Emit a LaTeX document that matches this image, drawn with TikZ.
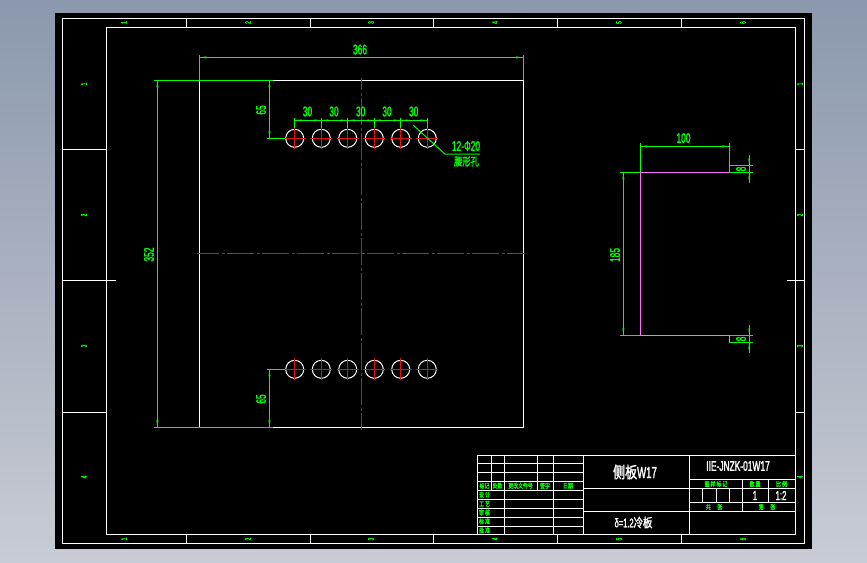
\documentclass[tikz,border=0pt]{standalone}
\usepackage{fontspec}
\usetikzlibrary{arrows.meta}
\setmainfont{Liberation Sans}
\newfontfamily\cadfont[FakeStretch=0.6,FakeBold=1.6]{Liberation Sans}
\newfontfamily\cadcjk[FakeStretch=0.75,FakeBold=1.6]{Noto Sans CJK SC}
\definecolor{cadgreen}{RGB}{0,255,0}
\definecolor{cadtip}{RGB}{0,130,0}
\definecolor{cadred}{RGB}{225,15,15}
\definecolor{cadpink}{RGB}{255,110,255}
\definecolor{deskTop}{RGB}{139,152,173}
\definecolor{deskBottom}{RGB}{200,204,212}

\begin{document}
\begin{tikzpicture}[
		x=1pt,
		y=-1pt,
		frameline/.style={draw=white, line width=1pt},
		partline/.style={draw=white, line width=1pt},
		bendline/.style={draw=cadpink, line width=1pt},
		extline/.style={draw=cadgreen, line width=1pt},
		dimline/.style={
			draw=cadgreen,
			line width=1pt,
			{Latex[length=7pt,width=3pt,color=cadtip]}-{Latex[length=7pt,width=3pt,color=cadtip]},
			postaction={draw=cadgreen, -}
		},
		dimin/.style={
			draw=cadgreen,
			line width=1pt,
			-{Latex[length=7pt,width=3pt,color=cadtip]},
			postaction={draw=cadgreen, -}
		},
		centerline/.style={draw=cadred, line width=0.9pt},
		dimlabel/.style={text=cadgreen, inner sep=0pt, font=\cadfont\fontsize{14}{14}\selectfont},
		cjklabel/.style={text=cadgreen, inner sep=0pt, font=\cadcjk\fontsize{11}{11}\selectfont},
		tablabel/.style={text=cadgreen, inner sep=0pt, font=\cadcjk\fontsize{6.5}{7}\selectfont},
		zonelabel/.style={text=cadgreen, inner sep=0pt, rotate=90, font=\cadfont\fontsize{8}{8}\selectfont},
		titlelabel/.style={text=white, inner sep=0pt}
		]
		
		\useasboundingbox (0,0) rectangle (867,562);
		
		% Window and sheet
		\shade[top color=deskTop, bottom color=deskBottom] (0,0) rectangle (867,562);
		\fill[black] (55,13) rectangle (812,548.5);
		
		% Drawing frame
		\draw[frameline] (62.3,18.3) rectangle (804.7,543.3);
		\draw[frameline] (106.3,27.3) rectangle (795.3,534.3);
		\foreach \tx in {186,310,433,557,681} {
			\draw[frameline] (\tx,18.3) -- (\tx,27.3);
			\draw[frameline] (\tx,534.3) -- (\tx,543.3);
		}
		\foreach \ty in {149,412.3} {
			\draw[frameline] (62.3,\ty) -- (106.3,\ty);
			\draw[frameline] (795.3,\ty) -- (804.7,\ty);
		}
		\draw[frameline] (62.3,280.3) -- (116,280.3);
		\draw[frameline] (787,280.3) -- (804.7,280.3);
		
		% Zone marks
		\foreach \zx/\zn [count=\zi] in {124/1,248/2,371/3,495/4,619/5,743/6} {
			\node[zonelabel] (zonetop\zi) at (\zx,22.5) {\zn};
			\node[zonelabel] (zonebot\zi) at (\zx,539) {\zn};
		}
		\foreach \zy/\zn [count=\zi] in {84/1,215/2,346/3,477/4} {
			\node[zonelabel] (zoneleft\zi) at (84,\zy) {\zn};
			\node[zonelabel] (zoneright\zi) at (800,\zy) {\zn};
		}
		
		% Plate, front view
		\draw[partline] (199.3,80.3) rectangle (523,427.3);
		\draw[centerline, dash pattern=on 27pt off 3pt on 3pt off 2pt, dash phase=5pt] (197,253.3) -- (525,253.3);
		\draw[centerline, dash pattern=on 27pt off 3pt on 3pt off 2pt, dash phase=15pt] (361.3,78) -- (361.3,429.5);
		
		% Holes
		\foreach \hx in {294.7,321.3,347.7,374.3,400.7,427.3} {
			\foreach \hy in {138.3,369.3} {
				\draw[partline] (\hx,\hy) circle (9);
				\draw[centerline] (\hx-11,\hy) -- (\hx+11,\hy);
				\draw[centerline] (\hx,\hy-11) -- (\hx,\hy+11);
			}
		}
		
		% Dimensions of the plate
		\draw[extline] (199.3,55) -- (199.3,80.3);
		\draw[extline] (523,55) -- (523,80.3);
		\draw[dimline] (199.3,57.3) -- (523,57.3);
		\node[dimlabel] (width) at (360,49.5) {366};
		
		\draw[extline] (154,80.3) -- (273,80.3);
		\draw[extline] (154,427.3) -- (273,427.3);
		\draw[dimline] (157.3,80.3) -- (157.3,427.3);
		\node[dimlabel, rotate=90] (height) at (149,254.5) {352};
		
		\draw[extline] (267,138.3) -- (285,138.3);
		\draw[dimline] (269.5,80.3) -- (269.5,138.3);
		\node[dimlabel, rotate=90] (offsettop) at (261,110) {65};
		
		\draw[extline] (267,369.3) -- (285,369.3);
		\draw[dimline] (269.5,369.3) -- (269.5,427.3);
		\node[dimlabel, rotate=90] (offsetbot) at (261,399) {65};
		
		% Pitch of the holes
		\foreach \hx in {294.7,321.3,347.7,374.3,400.7,427.3} {
			\draw[extline] (\hx,117.5) -- (\hx,128);
		}
		\foreach \ax/\bx/\lx [count=\pi] in {294.7/321.3/307.5,321.3/347.7/334,347.7/374.3/360.7,374.3/400.7/387,400.7/427.3/413.7} {
			\draw[dimline] (\ax,120.3) -- (\bx,120.3);
			\node[dimlabel] (pitch\pi) at (\lx,111.5) {30};
		}
		
		% Leader of the holes
		\coordinate (leadstart) at (413,125);
		\coordinate (leadbend) at (445,154);
		\coordinate (leadend) at (480,154);
		\draw[extline] (leadstart) -- (leadbend) -- (leadend);
		\node[dimlabel] (holecount) at (466,146) {12-Φ20};
		\node[cjklabel] (holename) at (466.5,161.5) {腰形孔};
		
		% Side view
		\draw[bendline] (729,172.3) -- (640.3,172.3) -- (640.3,335.3) -- (729,335.3) -- (729,342.3);
		\draw[extline] (640.3,143) -- (640.3,172.3);
		\draw[extline] (729,143) -- (729,172.3);
		\draw[dimline] (640.3,146.3) -- (729,146.3);
		\node[dimlabel] (sidewidth) at (683.5,138) {100};
		
		\draw[extline] (620,172.3) -- (640.3,172.3);
		\draw[extline] (620,335.3) -- (640.3,335.3);
		\draw[dimline] (623.3,172.3) -- (623.3,335.3);
		\node[dimlabel, rotate=90] (sideheight) at (615,255) {185};
		
		% Flange dimensions
		\foreach \ya/\yb/\ye/\yf/\yl/\fn in {165.3/172.3/155/183/169/flangetop, 335.3/342.3/325/353/339/flangebot} {
			\draw[extline] (729,\ya) -- (753,\ya);
			\draw[extline] (729,\yb) -- (753,\yb);
			\draw[extline] (749,\ya) -- (749,\yb);
			\draw[dimin] (749,\ye) -- (749,\ya);
			\draw[dimin] (749,\yf) -- (749,\yb);
			\node[dimlabel, rotate=90] (\fn) at (741,\yl) {8};
		}
		
		% Title block
		\draw[frameline] (477,455) -- (795.3,455);
		\draw[frameline] (477,455) -- (477,534.3);
		\foreach \ry in {463.3,472,481,490,499,508,517,526} {
			\draw[frameline] (477,\ry) -- (583.3,\ry);
		}
		\foreach \cx in {491.3,537.3} {
			\draw[frameline] (\cx,455) -- (\cx,490);
		}
		\foreach \cx in {504.3,553.3,583.3} {
			\draw[frameline] (\cx,455) -- (\cx,534.3);
		}
		\draw[frameline] (689.3,455) -- (689.3,534.3);
		\draw[frameline] (583.3,488.3) -- (795.3,488.3);
		\draw[frameline] (583.3,511.3) -- (689.3,511.3);
		\draw[frameline] (689.3,479.3) -- (795.3,479.3);
		\draw[frameline] (689.3,488.3) -- (795.3,488.3);
		\draw[frameline] (689.3,502.3) -- (795.3,502.3);
		\draw[frameline] (689.3,511.3) -- (795.3,511.3);
		\draw[frameline] (742.3,479.3) -- (742.3,511.3);
		\draw[frameline] (768.3,479.3) -- (768.3,502.3);
		\foreach \cx in {702.5,716.3,729.3} {
			\draw[frameline] (\cx,488.3) -- (\cx,502.3);
		}
		
		% Title block texts
		\node[titlelabel, font=\cadcjk\fontsize{16}{16}\selectfont] (title) at (635,472) {侧板{\cadfont W17}};
		\node[titlelabel, font=\cadcjk\fontsize{12.5}{13}\selectfont] (stock) at (633.5,522.5) {{\cadfont δ=1.2}冷板};
		\node[titlelabel, font=\cadfont\fontsize{14}{14}\selectfont] (code) at (738,466) {IIE-JNZK-01W17};
		\node[titlelabel, font=\cadfont\fontsize{13}{13}\selectfont] (amount) at (755,495.5) {1};
		\node[titlelabel, font=\cadfont\fontsize{13}{13}\selectfont] (ratio) at (781,495.5) {1:2};
		
		\foreach \tx/\ttext [count=\ti] in {484.5/标记,497.5/处数,520.5/更改文件号,545/签字,568/日期} {
			\node[tablabel] (head\ti) at (\tx,485.7) {\ttext};
		}
		\foreach \ty/\ttext [count=\ti] in {494.7/设\ 计,503.7/工\ 艺,512.5/审\ 核,521.3/标\ 准,530.3/批\ 准} {
			\node[tablabel] (role\ti) at (484.5,\ty) {\ttext};
		}
		\node[tablabel] (mark) at (716,484) {图\ 样\ 标\ 记};
		\node[tablabel] (weight) at (755,484) {数\ 量};
		\node[tablabel] (scale) at (781.5,484) {比\ 例};
		\node[tablabel] (total) at (714,507) {共\quad 张};
		\node[tablabel] (sheet) at (767,507) {第\quad 张};
		
	\end{tikzpicture}
\end{document}
